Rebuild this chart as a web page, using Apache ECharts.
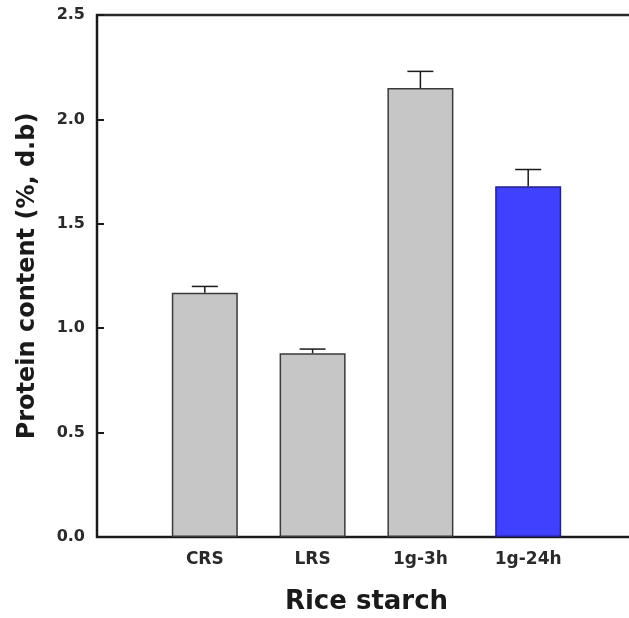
<!DOCTYPE html>
<html>
<head>
<meta charset="utf-8">
<script src="https://cdn.jsdelivr.net/npm/echarts@6/dist/echarts.min.js"></script>
<style>
  html, body { margin: 0; padding: 0; background: #ffffff; }
  #chart { width: 629px; height: 618px; }
</style>
</head>
<body>
<div id="chart"></div>
<script>
// Protein content of rice starch samples (% dry basis), mean + SD
const categories = ['CRS', 'LRS', '1g-3h', '1g-24h'];
const proteinMeans = [1.17, 0.88, 2.15, 1.68];
const proteinSD = [0.03, 0.02, 0.08, 0.08];
const barColors = ['#c6c6c6', '#c6c6c6', '#c6c6c6', '#4040ff'];
const barBorders = ['#3a3a3a', '#3a3a3a', '#3a3a3a', '#22228a'];
const yTicks = [0.0, 0.5, 1.0, 1.5, 2.0, 2.5];

const FONT = 'DejaVu Sans';
const chart = echarts.init(document.getElementById('chart'), null, { renderer: 'canvas' });

// bars sit at x = 1..n on a 0..n+1 value axis
const barData = categories.map((c, i) => ({
  value: [i + 1, proteinMeans[i]],
  itemStyle: { color: barColors[i], borderColor: barBorders[i] }
}));
const errData = categories.map((c, i) => [i + 1, proteinMeans[i], proteinSD[i]]);

chart.setOption({
  animation: false,
  backgroundColor: '#ffffff',
  grid: {
    left: 97, top: 15, width: 539, height: 522,
    outerBoundsMode: 'none',
    show: true, borderColor: '#2a2a2a', borderWidth: 2.5, backgroundColor: 'transparent'
  },
  xAxis: {
    type: 'value',
    min: 0, max: categories.length + 1, interval: 1,
    name: 'Rice starch',
    nameLocation: 'middle',
    nameGap: 52,
    nameTextStyle: { fontFamily: FONT, fontWeight: 'bold', fontSize: 26, color: '#1a1a1a' },
    axisLine: { show: true, onZero: false, lineStyle: { color: '#1a1a1a', width: 2 } },
    axisTick: { show: false },
    splitLine: { show: false },
    axisLabel: {
      margin: 14,
      fontFamily: FONT, fontWeight: 'bold', fontSize: 17, color: '#2a2a2a',
      formatter: v => categories[v - 1] || ''
    }
  },
  yAxis: {
    type: 'value',
    min: yTicks[0], max: yTicks[yTicks.length - 1], interval: 0.5,
    name: 'Protein content (%, d.b)',
    nameLocation: 'middle',
    nameGap: 57,
    nameTextStyle: { fontFamily: FONT, fontWeight: 'bold', fontSize: 24, color: '#1a1a1a' },
    axisLine: { show: true, lineStyle: { color: '#1a1a1a', width: 2 } },
    axisTick: { show: true, inside: true, length: 7, lineStyle: { color: '#1a1a1a', width: 2 } },
    splitLine: { show: false },
    axisLabel: {
      margin: 12,
      fontFamily: FONT, fontWeight: 'bold', fontSize: 16, color: '#2a2a2a',
      formatter: v => v.toFixed(1)
    }
  },
  series: [
    {
      type: 'bar',
      data: barData,
      barWidth: 66,
      itemStyle: { borderWidth: 1.5 },
      z: 2
    },
    {
      type: 'custom',
      data: errData,
      z: 3,
      renderItem: function (params, api) {
        const x = api.value(0);
        const top = api.coord([x, api.value(1)]);
        const hi = api.coord([x, api.value(1) + api.value(2)]);
        const half = 13;
        const style = { stroke: '#1a1a1a', lineWidth: 1.5, fill: null };
        return {
          type: 'group',
          children: [
            { type: 'line', shape: { x1: top[0], y1: top[1], x2: hi[0], y2: hi[1] }, style },
            { type: 'line', shape: { x1: hi[0] - half, y1: hi[1], x2: hi[0] + half, y2: hi[1] }, style }
          ]
        };
      }
    }
  ]
});
</script>
</body>
</html>
